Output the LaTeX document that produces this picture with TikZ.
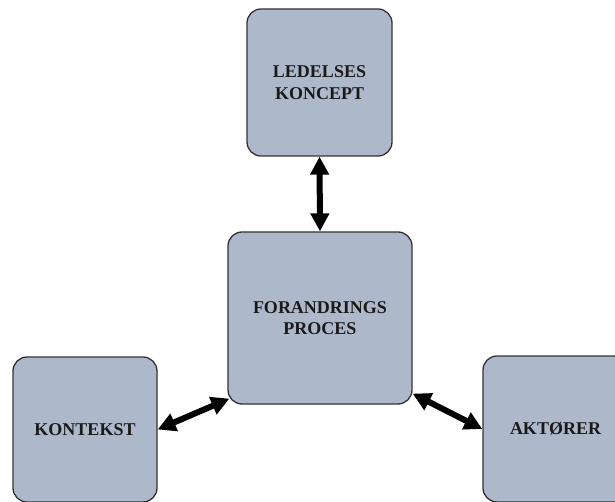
\documentclass[tikz,border=0pt]{standalone}
\usepackage{fontspec}
\setmainfont{Liberation Serif}
\usetikzlibrary{arrows.meta,calc}
\definecolor{boxfill}{HTML}{ADB9CB}
\definecolor{boxline}{HTML}{333333}
\definecolor{txt}{HTML}{1A1A1A}
\begin{document}
\begin{tikzpicture}[x=1pt,y=-1pt,
  conceptbox/.style={draw=boxline, line width=1.3pt, fill=boxfill, rounded corners=14pt,
    inner sep=0pt, align=center, text=txt, font=\bfseries\fontsize{18}{21.5}\selectfont},
  biarrow/.style={line width=6pt, {Triangle[length=18pt,width=18pt]}-{Triangle[length=18pt,width=18pt]}}]
\useasboundingbox (0,0) rectangle (615,502);
\clip (0,0) rectangle (615,502);
\node[conceptbox, minimum width=145pt, minimum height=147pt] (led) at (319.5,82.5) {LEDELSES\\KONCEPT};
\node[conceptbox, minimum width=184pt, minimum height=172pt] (mid) at (320,318) {FORANDRINGS\\PROCES};
\node[conceptbox, minimum width=144pt, minimum height=145pt] (kon) at (85,429.5) {KONTEKST};
\node[conceptbox, minimum width=145pt, minimum height=146pt] (akt) at (555.5,429) {AKTØRER};
\coordinate (midsw) at ($(mid.south west)+(2,-6)$);
\coordinate (midse) at ($(mid.south east)+(0,-11)$);
\draw[biarrow] (led.south) -- (mid.north);
\draw[biarrow] (kon.east) -- (midsw);
\draw[biarrow] (akt.west) -- (midse);
\end{tikzpicture}
\end{document}
